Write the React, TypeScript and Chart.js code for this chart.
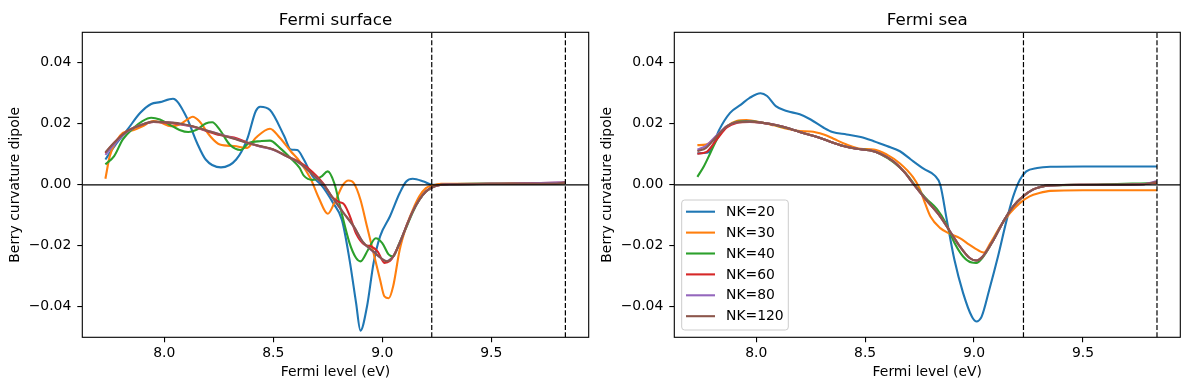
import React, { useEffect, useRef } from 'react';
import { Chart, registerables } from 'chart.js';

Chart.register(...registerables);

type P = [number, number];

const seriesLabels = ['NK=20', 'NK=30', 'NK=40', 'NK=60', 'NK=80', 'NK=120'];
const seriesColors = ['#1f77b4', '#ff7f0e', '#2ca02c', '#d62728', '#9467bd', '#8c564b'];
const panelTitles = ['Fermi surface', 'Fermi sea'];
const xAxisTitle = 'Fermi level (eV)';
const yAxisTitle = 'Berry curvature dipole';
const xTicks = [8.0, 8.5, 9.0, 9.5];
const yTicks = [-0.04, -0.02, 0.0, 0.02, 0.04];
const xLimits = [7.624, 9.947];
const yLimits = [-0.05, 0.05];
const dashedX = [9.227, 9.84];
const zeroY = 0;

// ---- Fermi surface ----
const surfNK20: P[] = [[7.73,0.0083],[7.78,0.0135],[7.83,0.0180],[7.89,0.0236],[7.94,0.0265],[7.98,0.0271],[8.04,0.0282],[8.10,0.0225],[8.15,0.0138],[8.19,0.0083],[8.26,0.0057],[8.33,0.0083],[8.38,0.0149],[8.42,0.0242],[8.44,0.0256],[8.485,0.0245],[8.55,0.0160],[8.58,0.0116],[8.61,0.0114],[8.64,0.0083],[8.68,0.0028],[8.72,0.0000],[8.775,-0.0060],[8.815,-0.0115],[8.85,-0.0246],[8.88,-0.0388],[8.90,-0.0478],[8.93,-0.0399],[8.96,-0.0257],[8.99,-0.0169],[9.035,-0.0104],[9.08,-0.0027],[9.11,0.0011],[9.14,0.0020],[9.19,0.0011],[9.23,0.0000],[9.30,0.0002],[9.50,0.0003],[9.80,0.0004],[9.84,0.0006]];
const surfNK30: P[] = [[7.73,0.0020],[7.75,0.0094],[7.78,0.0143],[7.81,0.0170],[7.86,0.0180],[7.90,0.0192],[7.95,0.0209],[7.98,0.0205],[8.03,0.0192],[8.07,0.0198],[8.11,0.0216],[8.13,0.0223],[8.16,0.0209],[8.21,0.0160],[8.255,0.0132],[8.32,0.0127],[8.38,0.0121],[8.42,0.0154],[8.485,0.0184],[8.53,0.0154],[8.58,0.0110],[8.62,0.0078],[8.67,0.0022],[8.71,-0.0045],[8.75,-0.0095],[8.78,-0.0060],[8.82,0.0000],[8.845,0.0014],[8.87,0.0005],[8.90,-0.0049],[8.93,-0.0137],[8.96,-0.0224],[8.99,-0.0311],[9.01,-0.0366],[9.03,-0.0372],[9.05,-0.0333],[9.08,-0.0213],[9.11,-0.0137],[9.14,-0.0082],[9.17,-0.0038],[9.20,-0.0011],[9.23,-0.0002],[9.27,0.0003],[9.50,0.0003],[9.84,0.0005]];
const surfNK40: P[] = [[7.73,0.0067],[7.77,0.0094],[7.81,0.0149],[7.86,0.0187],[7.90,0.0209],[7.94,0.0220],[7.98,0.0214],[8.03,0.0195],[8.07,0.0180],[8.11,0.0173],[8.15,0.0181],[8.19,0.0201],[8.22,0.0205],[8.255,0.0180],[8.30,0.0132],[8.35,0.0114],[8.39,0.0138],[8.44,0.0143],[8.485,0.0145],[8.53,0.0121],[8.58,0.0087],[8.62,0.0056],[8.64,0.0030],[8.68,0.0016],[8.72,0.0027],[8.75,0.0044],[8.78,0.0005],[8.81,-0.0082],[8.85,-0.0191],[8.88,-0.0240],[8.90,-0.0251],[8.935,-0.0213],[8.97,-0.0175],[9.00,-0.0191],[9.03,-0.0229],[9.05,-0.0235],[9.075,-0.0197],[9.11,-0.0140],[9.14,-0.0090],[9.17,-0.0050],[9.20,-0.0023],[9.23,-0.0008],[9.27,0.0000],[9.31,0.0002],[9.50,0.0003],[9.84,0.0005]];
const surfNK60: P[] = [[7.73,0.0103],[7.77,0.0138],[7.83,0.0176],[7.89,0.0195],[7.95,0.0206],[8.01,0.0204],[8.07,0.0199],[8.13,0.0191],[8.19,0.0177],[8.255,0.0163],[8.32,0.0155],[8.38,0.0139],[8.44,0.0126],[8.50,0.0116],[8.56,0.0095],[8.62,0.0075],[8.68,0.0042],[8.73,0.0004],[8.77,-0.0040],[8.80,-0.0056],[8.825,-0.0064],[8.85,-0.0100],[8.88,-0.0160],[8.92,-0.0197],[8.95,-0.0202],[8.98,-0.0220],[9.01,-0.0256],[9.035,-0.0250],[9.05,-0.0236],[9.08,-0.0191],[9.11,-0.0137],[9.14,-0.0087],[9.17,-0.0049],[9.20,-0.0022],[9.23,-0.0008],[9.27,0.0000],[9.31,0.0002],[9.50,0.0003],[9.84,0.0007]];
const surfNK80: P[] = [[7.73,0.0098],[7.77,0.0132],[7.83,0.0174],[7.89,0.0196],[7.95,0.0206],[8.01,0.0205],[8.07,0.0200],[8.13,0.0191],[8.19,0.0179],[8.255,0.0166],[8.32,0.0152],[8.38,0.0138],[8.44,0.0126],[8.50,0.0115],[8.56,0.0094],[8.62,0.0071],[8.68,0.0034],[8.73,0.0000],[8.77,-0.0040],[8.82,-0.0090],[8.87,-0.0138],[8.91,-0.0187],[8.96,-0.0220],[9.005,-0.0246],[9.02,-0.0250],[9.05,-0.0235],[9.08,-0.0191],[9.11,-0.0137],[9.14,-0.0087],[9.17,-0.0049],[9.20,-0.0022],[9.23,-0.0008],[9.27,0.0000],[9.31,0.0002],[9.50,0.0003],[9.84,0.0008]];
const surfNK120: P[] = [[7.73,0.0107],[7.77,0.0138],[7.83,0.0176],[7.89,0.0195],[7.95,0.0207],[8.01,0.0205],[8.07,0.0201],[8.13,0.0192],[8.19,0.0179],[8.255,0.0165],[8.32,0.0151],[8.38,0.0138],[8.44,0.0127],[8.50,0.0116],[8.56,0.0094],[8.62,0.0072],[8.68,0.0034],[8.73,0.0001],[8.77,-0.0040],[8.82,-0.0090],[8.87,-0.0137],[8.91,-0.0186],[8.96,-0.0219],[9.005,-0.0246],[9.02,-0.0251],[9.05,-0.0235],[9.08,-0.0191],[9.11,-0.0137],[9.14,-0.0087],[9.17,-0.0049],[9.20,-0.0022],[9.23,-0.0008],[9.27,0.0000],[9.31,0.0002],[9.50,0.0003],[9.80,0.0004],[9.84,0.0008]];

// ---- Fermi sea ----
const seaNK20: P[] = [[7.73,0.0103],[7.77,0.0105],[7.79,0.0112],[7.83,0.0180],[7.88,0.0236],[7.93,0.0263],[7.97,0.0285],[8.02,0.0300],[8.05,0.0291],[8.09,0.0258],[8.14,0.0242],[8.20,0.0231],[8.25,0.0214],[8.31,0.0187],[8.35,0.0173],[8.415,0.0165],[8.48,0.0157],[8.54,0.0143],[8.60,0.0127],[8.66,0.0110],[8.71,0.0083],[8.77,0.0052],[8.82,0.0030],[8.845,0.0000],[8.875,-0.0115],[8.91,-0.0246],[8.95,-0.0355],[8.99,-0.0432],[9.01,-0.0448],[9.035,-0.0432],[9.07,-0.0344],[9.11,-0.0235],[9.15,-0.0115],[9.18,-0.0038],[9.21,0.0016],[9.24,0.0044],[9.29,0.0055],[9.35,0.0059],[9.50,0.0060],[9.84,0.0060]];
const seaNK30: P[] = [[7.73,0.0130],[7.77,0.0132],[7.82,0.0160],[7.865,0.0192],[7.91,0.0209],[7.955,0.0212],[8.02,0.0205],[8.08,0.0195],[8.14,0.0184],[8.20,0.0176],[8.25,0.0175],[8.31,0.0165],[8.355,0.0151],[8.415,0.0132],[8.48,0.0118],[8.54,0.0116],[8.60,0.0099],[8.66,0.0070],[8.72,0.0025],[8.75,-0.0012],[8.775,-0.0060],[8.80,-0.0104],[8.845,-0.0142],[8.89,-0.0161],[8.935,-0.0175],[8.98,-0.0197],[9.03,-0.0219],[9.045,-0.0222],[9.075,-0.0191],[9.12,-0.0137],[9.165,-0.0093],[9.21,-0.0060],[9.255,-0.0038],[9.30,-0.0027],[9.35,-0.0020],[9.50,-0.0018],[9.84,-0.0018]];
const seaNK40: P[] = [[7.73,0.0026],[7.76,0.0061],[7.79,0.0105],[7.82,0.0149],[7.85,0.0181],[7.895,0.0203],[7.955,0.0209],[8.02,0.0205],[8.09,0.0195],[8.155,0.0184],[8.215,0.0170],[8.28,0.0157],[8.34,0.0141],[8.40,0.0127],[8.46,0.0118],[8.52,0.0113],[8.57,0.0101],[8.63,0.0074],[8.69,0.0035],[8.73,-0.0002],[8.78,-0.0045],[8.83,-0.0080],[8.87,-0.0125],[8.91,-0.0190],[8.95,-0.0235],[8.99,-0.0255],[9.01,-0.0256],[9.04,-0.0238],[9.09,-0.0180],[9.135,-0.0120],[9.18,-0.0071],[9.225,-0.0038],[9.27,-0.0016],[9.30,-0.0008],[9.35,-0.0002],[9.50,0.0000],[9.84,0.0006]];
const seaNK60: P[] = [[7.73,0.0102],[7.77,0.0107],[7.82,0.0150],[7.865,0.0188],[7.91,0.0203],[7.97,0.0206],[8.03,0.0203],[8.09,0.0196],[8.155,0.0184],[8.215,0.0170],[8.28,0.0157],[8.34,0.0141],[8.40,0.0127],[8.46,0.0118],[8.52,0.0113],[8.57,0.0102],[8.63,0.0077],[8.68,0.0042],[8.725,0.0000],[8.78,-0.0049],[8.845,-0.0104],[8.89,-0.0153],[8.935,-0.0202],[8.98,-0.0240],[9.01,-0.0248],[9.04,-0.0235],[9.09,-0.0180],[9.135,-0.0120],[9.18,-0.0071],[9.225,-0.0038],[9.27,-0.0016],[9.30,-0.0008],[9.35,-0.0002],[9.50,0.0000],[9.78,0.0002],[9.84,0.0008]];
const seaNK80: P[] = [[7.73,0.0115],[7.77,0.0128],[7.82,0.0163],[7.865,0.0192],[7.91,0.0205],[7.97,0.0207],[8.03,0.0203],[8.09,0.0196],[8.155,0.0184],[8.215,0.0170],[8.28,0.0157],[8.34,0.0141],[8.40,0.0127],[8.46,0.0118],[8.52,0.0113],[8.57,0.0102],[8.63,0.0077],[8.68,0.0042],[8.725,0.0000],[8.78,-0.0049],[8.845,-0.0104],[8.89,-0.0153],[8.935,-0.0202],[8.98,-0.0240],[9.01,-0.0248],[9.04,-0.0235],[9.09,-0.0180],[9.135,-0.0120],[9.18,-0.0071],[9.225,-0.0038],[9.27,-0.0016],[9.30,-0.0008],[9.35,-0.0002],[9.50,0.0000],[9.78,0.0002],[9.84,0.0012]];
const seaNK120: P[] = [[7.73,0.0110],[7.77,0.0121],[7.82,0.0160],[7.865,0.0192],[7.91,0.0205],[7.97,0.0207],[8.03,0.0203],[8.09,0.0196],[8.155,0.0184],[8.215,0.0170],[8.28,0.0157],[8.34,0.0141],[8.40,0.0127],[8.46,0.0118],[8.52,0.0113],[8.57,0.0102],[8.63,0.0077],[8.68,0.0042],[8.725,0.0000],[8.78,-0.0049],[8.845,-0.0104],[8.89,-0.0153],[8.935,-0.0202],[8.98,-0.0240],[9.01,-0.0248],[9.04,-0.0235],[9.09,-0.0180],[9.135,-0.0120],[9.18,-0.0071],[9.225,-0.0038],[9.27,-0.0016],[9.30,-0.0008],[9.35,-0.0002],[9.50,0.0000],[9.78,0.0002],[9.84,0.0010]];

const surfaceSeries = [surfNK20, surfNK30, surfNK40, surfNK60, surfNK80, surfNK120];
const seaSeries = [seaNK20, seaNK30, seaNK40, seaNK60, seaNK80, seaNK120];

const FONT = "'DejaVu Sans', 'Liberation Sans', sans-serif";
const W = 595;
const H = 390;

function fmtY(v: number): string {
  if (Math.abs(v) < 1e-12) return '0.00';
  return (v < 0 ? '\u2212' : '') + Math.abs(v).toFixed(2);
}

function makeChart(
  canvas: HTMLCanvasElement,
  series: P[][],
  title: string,
  yAxisWidth: number,
  padRight: number,
  showLegend: boolean
) {
  const datasets: any[] = series.map((pts, i) => ({
    label: seriesLabels[i],
    data: pts.map(([x, y]) => ({ x, y })),
    borderColor: seriesColors[i],
    backgroundColor: seriesColors[i],
    borderWidth: 2.1,
    pointRadius: 0,
    fill: false,
    cubicInterpolationMode: 'monotone',
    order: 20 - i,
  }));
  dashedX.forEach((xv) => {
    datasets.push({
      label: 'vline',
      data: [{ x: xv, y: yLimits[0] }, { x: xv, y: yLimits[1] }],
      borderColor: '#000',
      borderWidth: 1.2,
      borderDash: [5.1, 2.2],
      pointRadius: 0,
      fill: false,
      order: 1,
    });
  });
  datasets.push({
    label: 'zero',
    data: [{ x: xLimits[0], y: zeroY }, { x: xLimits[1], y: zeroY }],
    borderColor: '#000',
    borderWidth: 1.3,
    pointRadius: 0,
    fill: false,
    order: 0,
  });

  const framePlugin = {
    id: 'frame',
    afterDatasetsDraw(chart: any) {
      const { ctx, chartArea: a } = chart;
      ctx.save();
      ctx.strokeStyle = '#000';
      ctx.lineWidth = 1.1;
      ctx.strokeRect(a.left, a.top, a.right - a.left, a.bottom - a.top);
      ctx.restore();
    },
  };

  const textPlugin = {
    id: 'texts',
    afterDraw(chart: any) {
      const { ctx, chartArea: a } = chart;
      const cx = (a.left + a.right) / 2;
      const cy = (a.top + a.bottom) / 2;
      ctx.save();
      ctx.fillStyle = '#000';
      ctx.textAlign = 'center';
      ctx.textBaseline = 'alphabetic';
      ctx.font = `16.7px ${FONT}`;
      ctx.fillText(title, cx, a.top - 7.5);
      ctx.font = `13.9px ${FONT}`;
      ctx.textBaseline = 'middle';
      ctx.fillText(xAxisTitle, cx, 372);
      ctx.translate(a.left - 66.5, cy);
      ctx.rotate(-Math.PI / 2);
      ctx.fillText(yAxisTitle, 0, 0);
      ctx.restore();

      if (showLegend) {
        const bx = a.left + 7.4;
        const by = 200;
        const bw = 106.6;
        const bh = 130;
        const r = 3;
        ctx.save();
        ctx.beginPath();
        ctx.moveTo(bx + r, by);
        ctx.lineTo(bx + bw - r, by);
        ctx.arcTo(bx + bw, by, bx + bw, by + r, r);
        ctx.lineTo(bx + bw, by + bh - r);
        ctx.arcTo(bx + bw, by + bh, bx + bw - r, by + bh, r);
        ctx.lineTo(bx + r, by + bh);
        ctx.arcTo(bx, by + bh, bx, by + bh - r, r);
        ctx.lineTo(bx, by + r);
        ctx.arcTo(bx, by, bx + r, by, r);
        ctx.closePath();
        ctx.fillStyle = 'rgba(255,255,255,0.8)';
        ctx.fill();
        ctx.strokeStyle = '#cccccc';
        ctx.lineWidth = 1;
        ctx.stroke();
        ctx.font = `13.9px ${FONT}`;
        ctx.textAlign = 'left';
        ctx.textBaseline = 'middle';
        seriesLabels.forEach((lab, i) => {
          const yy = 211.7 + i * 20.9;
          ctx.strokeStyle = seriesColors[i];
          ctx.lineWidth = 2.1;
          ctx.beginPath();
          ctx.moveTo(bx + 4.3, yy);
          ctx.lineTo(bx + 33.3, yy);
          ctx.stroke();
          ctx.fillStyle = '#000';
          ctx.fillText(lab, bx + 44.3, yy + 0.5);
        });
        ctx.restore();
      }
    },
  };

  return new Chart(canvas, {
    type: 'line',
    data: { datasets },
    options: {
      animation: false,
      responsive: false,
      events: [],
      layout: { padding: { left: 0, right: padRight, top: 32.3, bottom: 0 } },
      plugins: {
        legend: { display: false },
        tooltip: { enabled: false },
        title: { display: false },
      },
      scales: {
        x: {
          type: 'linear',
          min: xLimits[0],
          max: xLimits[1],
          afterBuildTicks: (s: any) => {
            s.ticks = xTicks.map((v) => ({ value: v }));
          },
          afterFit: (s: any) => {
            s.height = 52.7;
          },
          grid: {
            display: true,
            drawOnChartArea: false,
            drawTicks: true,
            tickLength: 5,
            color: '#000',
            lineWidth: 1.1,
          },
          border: { display: false },
          ticks: {
            autoSkip: false,
            maxRotation: 0,
            padding: 2.5,
            color: '#000',
            font: { family: FONT, size: 13.9 },
            callback: (v: any) => Number(v).toFixed(1),
          },
        },
        y: {
          type: 'linear',
          min: yLimits[0],
          max: yLimits[1],
          afterBuildTicks: (s: any) => {
            s.ticks = yTicks.map((v) => ({ value: v }));
          },
          afterFit: (s: any) => {
            s.width = yAxisWidth;
          },
          grid: {
            display: true,
            drawOnChartArea: false,
            drawTicks: true,
            tickLength: 5,
            color: '#000',
            lineWidth: 1.1,
          },
          border: { display: false },
          ticks: {
            autoSkip: false,
            padding: 6,
            color: '#000',
            font: { family: FONT, size: 13.9 },
            callback: (v: any) => fmtY(Number(v)),
          },
        },
      },
    },
    plugins: [framePlugin, textPlugin],
  } as any);
}

export default function App() {
  const leftRef = useRef<HTMLCanvasElement>(null);
  const rightRef = useRef<HTMLCanvasElement>(null);

  useEffect(() => {
    document.body.style.margin = '0';
    const charts: Chart[] = [];
    if (leftRef.current) {
      charts.push(makeChart(leftRef.current, surfaceSeries, panelTitles[0], 82.3, W - 588.7, false));
    }
    if (rightRef.current) {
      charts.push(makeChart(rightRef.current, seaSeries, panelTitles[1], 674.3 - W, W * 2 - 1180.3, true));
    }
    return () => {
      charts.forEach((c) => c.destroy());
    };
  }, []);

  return (
    <div style={{ position: 'relative', width: W * 2, height: H, background: '#fff' }}>
      <canvas
        ref={leftRef}
        width={W}
        height={H}
        style={{ position: 'absolute', left: 0, top: 0, width: W, height: H }}
      />
      <canvas
        ref={rightRef}
        width={W}
        height={H}
        style={{ position: 'absolute', left: W, top: 0, width: W, height: H }}
      />
    </div>
  );
}
